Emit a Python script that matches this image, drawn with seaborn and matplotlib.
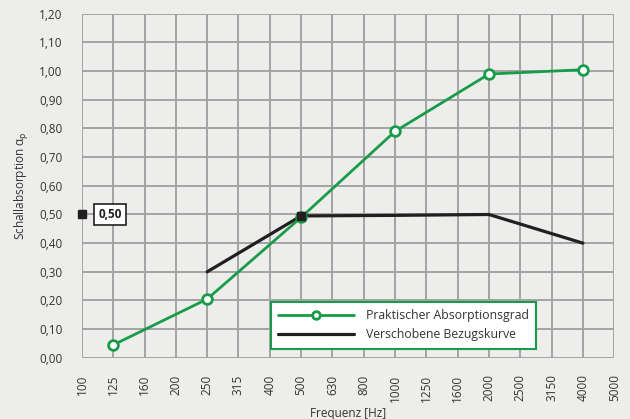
import numpy as np
import pandas as pd
import seaborn as sns
import matplotlib.pyplot as plt
from matplotlib.ticker import FuncFormatter

# third-octave band labels on the x axis
freq_labels = ["100", "125", "160", "200", "250", "315", "400", "500", "630",
               "800", "1000", "1250", "1600", "2000", "2500", "3150", "4000", "5000"]

# practical absorption coefficient (octave bands)
alpha_freqs = ["125", "250", "500", "1000", "2000", "4000"]
alpha_vals = [0.045, 0.205, 0.49, 0.79, 0.99, 1.005]

# shifted reference curve
ref_freqs = ["250", "500", "1000", "2000", "4000"]
ref_vals = [0.30, 0.495, 0.497, 0.50, 0.40]

ref_level = 0.50

bg = "#edeeeb"
green = "#1a9b4a"
gridc = "#a3a3a5"
textc = "#333333"

sns.set_theme(style="whitegrid")
plt.rcParams["font.family"] = ["Open Sans", "DejaVu Sans"]

df_alpha = pd.DataFrame({"pos": [freq_labels.index(f) for f in alpha_freqs], "val": alpha_vals})
df_ref = pd.DataFrame({"pos": [freq_labels.index(f) for f in ref_freqs], "val": ref_vals})

fig = plt.figure(figsize=(6.3, 4.19), dpi=100, facecolor=bg)
ax = fig.add_axes([0.130, 0.146, 0.845, 0.821])
ax.set_facecolor(bg)

sns.lineplot(data=df_alpha, x="pos", y="val", ax=ax, color=green, lw=2,
             marker="o", markersize=7, markerfacecolor="white",
             markeredgecolor=green, markeredgewidth=2,
             label="Praktischer Absorptionsgrad", zorder=4)
sns.lineplot(data=df_ref, x="pos", y="val", ax=ax, color="#231f20", lw=2.3,
             label="Verschobene Bezugskurve", zorder=3)
# square marker where the reference curve sits at 500 Hz
ax.plot([freq_labels.index("500")], [ref_vals[ref_freqs.index("500")]], "s",
        color="#231f20", ms=6, zorder=5)

# level marker on the left
ax.plot([0], [ref_level], "s", color="#231f20", ms=6, zorder=5, clip_on=False)
ax.annotate(f"{ref_level:.2f}".replace(".", ","), xy=(0, ref_level), xytext=(12, 0),
            textcoords="offset points", ha="left", va="center",
            fontsize=8.5, fontweight="bold", color="#231f20",
            bbox=dict(boxstyle="square,pad=0.35", fc="white", ec="#231f20", lw=1.2),
            zorder=6)

ax.set_xlim(0, len(freq_labels) - 1)
ax.set_ylim(0, 1.2)
ax.set_xticks(range(len(freq_labels)))
ax.set_xticklabels(freq_labels, rotation=90)
ax.set_yticks(np.arange(0, 1.21, 0.1))
ax.yaxis.set_major_formatter(FuncFormatter(lambda v, p: f"{v:.2f}".replace(".", ",")))

ax.grid(True, color=gridc, lw=1.4)
for s in ax.spines.values():
    s.set_visible(False)
ax.tick_params(axis="both", which="major", width=1.4, color=gridc,
               labelsize=8.5, labelcolor=textc, pad=4)
ax.tick_params(axis="y", length=10)
ax.tick_params(axis="x", length=8)

ax.set_xlabel("Frequenz [Hz]", fontsize=8.5, color=textc, labelpad=4)
ax.set_ylabel("Schallabsorption α$_\\mathrm{p}$", fontsize=8.5, color=textc, labelpad=6)

leg = ax.legend(loc="lower left", bbox_to_anchor=(0.35, 0.02), frameon=True,
                fancybox=False, fontsize=8.8, handlelength=6.2, borderpad=0.6,
                labelspacing=0.5, handletextpad=1.0, borderaxespad=0.2)
leg.get_frame().set_edgecolor(green)
leg.get_frame().set_linewidth(1.5)
leg.get_frame().set_facecolor("white")
leg.get_frame().set_alpha(1)
for t in leg.get_texts():
    t.set_color(textc)
# smaller marker in the legend, as in the reference
leg.legend_handles[0].set_markersize(5.5)

fig.savefig("out.png", dpi=100, facecolor=bg)
